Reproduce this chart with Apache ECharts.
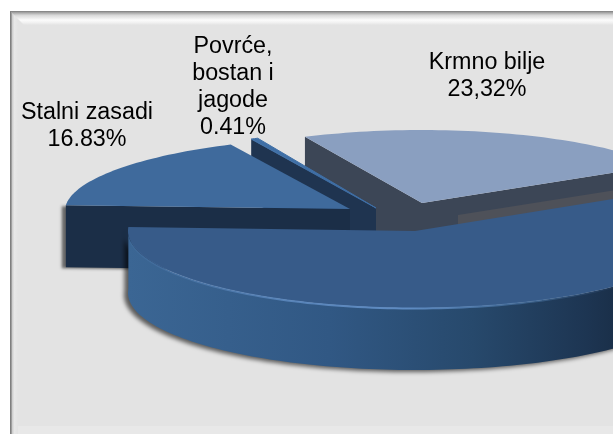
<!DOCTYPE html>
<html>
<head>
<meta charset="utf-8">
<style>html,body{margin:0;padding:0;background:#fff}#c{width:613px;height:434px}</style>
<script src="https://cdn.jsdelivr.net/npm/echarts@6/dist/echarts.min.js"></script>
</head>
<body>
<div id="c"></div>
<script>
// Slices in clockwise order, beginning with the slice at the back
const categories = ['Krmno bilje', 'Oranice', 'Stalni zasadi', 'Povrće, bostan i jagode'];
const shares = [23.32, 59.44, 16.83, 0.41];
const labelTexts = ['Krmno bilje\n23,32%', '', 'Stalni zasadi\n16.83%', 'Povrće,\nbostan i\njagode\n0.41%'];

// Layout and styling
const START_ANGLE = 245;
const DEPTH = 62;
const geometry = [
  {cx: 422, cy: 203, rx: 277, ry: 73, skew: 0},
  {cx: 415, cy: 231, rx: 287, ry: 77, skew: 0},
  {cx: 350, cy: 209, rx: 285, ry: 72, skew: 0.12},
  {cx: 376, cy: 208, rx: 280, ry: 77, skew: 0}
];
const labelPos = [[487, 76], null, [87, 126], [233, 87]];
const topColors = ['#8a9fc0', '#375b89', '#3f6a9c', '#3f6fa6'];
const drawOrder = [0, 3, 2, 1];
const FONT = '23.3px "Liberation Sans", Arial, sans-serif';

const total = shares.reduce((a, b) => a + b, 0);
const spans = [];
(function () {
  let a = START_ANGLE;
  shares.forEach(v => { const s = v / total * 360; spans.push([a, a + s]); a += s; });
})();

function pt(g, deg, dy) {
  const r = deg * Math.PI / 180;
  const yo = g.ry * Math.sin(r);
  return [g.cx + g.rx * Math.cos(r) - g.skew * yo, g.cy + yo + (dy || 0)];
}
function arc(g, a0, a1, dy) {
  const out = [];
  const n = Math.max(4, Math.ceil(Math.abs(a1 - a0) / 1.5));
  for (let i = 0; i <= n; i++) out.push(pt(g, a0 + (a1 - a0) * i / n, dy));
  return out;
}
function poly(points, style, extra) {
  return Object.assign({type: 'polygon', shape: {points}, style}, extra || {});
}
function hGrad(stops) {
  return {type: 'linear', x: 0, y: 0, x2: 1, y2: 0, colorStops: stops};
}

function renderSlice(params, api) {
  const i = api.value(0);
  const g = geometry[i];
  const [a0, a1] = spans[i];
  const apex = [g.cx, g.cy];
  const apexDown = [g.cx, g.cy + DEPTH];
  const startP = pt(g, a0), endP = pt(g, a1);
  const startD = pt(g, a0, DEPTH), endD = pt(g, a1, DEPTH);
  const children = [];

  if (i === 0) {
    // Back slice: two cut faces visible
    children.push(poly([startP, apex, endP, endD, apexDown, startD], {fill: '#3c4656'}));
    const sx = 36, sy = 12;
    children.push(poly([[g.cx + sx, g.cy + sy], [endP[0] + sx, endP[1] + sy], [endD[0], endD[1]], [g.cx + sx, g.cy + DEPTH]], {fill: '#4e5159'}));
    children.push(poly([apex].concat(arc(g, a0, a1)), {fill: topColors[i]}));
  } else if (i === 3) {
    // Thin slice
    children.push(poly([startP, apex, apexDown, startD], {fill: '#1f3450'}));
    children.push(poly([apex].concat(arc(g, a0, a1)), {fill: topColors[i], stroke: '#3f6fa6', lineWidth: 1}));
  } else if (i === 2) {
    children.push(poly([startP, apex, apexDown, startD], {
      fill: '#1b2e47', shadowBlur: 3, shadowColor: 'rgba(0,0,0,0.55)', shadowOffsetX: -4, shadowOffsetY: 1
    }));
    children.push(poly([apex].concat(arc(g, a0, a1)), {fill: topColors[i]}));
  } else {
    // Large front slice
    const sideGrad = hGrad([
      {offset: 0, color: '#3b6694'}, {offset: 0.35, color: '#315884'},
      {offset: 0.6, color: '#27496c'}, {offset: 0.8, color: '#1d3552'},
      {offset: 0.93, color: '#15263a'}, {offset: 1, color: '#1a2b41'}
    ]);
    const top = arc(g, a0, a1);
    const bottom = arc(g, a0, a1, DEPTH);
    children.push(poly(top.concat(bottom.slice().reverse()), {
      fill: sideGrad, shadowBlur: 4, shadowColor: 'rgba(0,0,0,0.6)', shadowOffsetX: -4, shadowOffsetY: 2
    }));
    children.push(poly([apex].concat(top), {fill: topColors[i]}));
    // Bevel highlight on the rim
    children.push({
      type: 'polyline',
      shape: {points: arc(g, 172, 40, 0.5)},
      style: {
        fill: null, lineWidth: 2,
        stroke: hGrad([
          {offset: 0, color: 'rgba(95,140,195,0.1)'}, {offset: 0.3, color: 'rgba(95,140,195,0.8)'},
          {offset: 0.55, color: 'rgba(95,140,195,1)'}, {offset: 0.8, color: 'rgba(80,125,175,0.5)'},
          {offset: 1, color: 'rgba(60,95,140,0)'}
        ])
      }
    });
  }
  return {type: 'group', children};
}

const panel = [
  {type: 'rect', shape: {x: 10, y: 11, width: 620, height: 440}, style: {fill: '#e3e3e3'}},
  {type: 'rect', shape: {x: 10, y: 11, width: 8, height: 440}, style: {fill: {type: 'linear', x: 0, y: 0, x2: 1, y2: 0, colorStops: [
    {offset: 0, color: '#777'}, {offset: 0.14, color: '#8a8a8a'}, {offset: 0.3, color: '#cfcfcf'},
    {offset: 0.55, color: '#e8e8e8'}, {offset: 1, color: '#e3e3e3'}]}}},
  {type: 'polygon', shape: {points: [[10, 11], [630, 11], [630, 25], [24, 25]]}, style: {fill: {type: 'linear', x: 0, y: 0, x2: 0, y2: 1, colorStops: [
    {offset: 0, color: '#7a7a7a'}, {offset: 0.08, color: '#9a9a9a'}, {offset: 0.3, color: '#d8d8d8'},
    {offset: 0.65, color: '#fbfbfb'}, {offset: 0.85, color: '#f0f0f0'}, {offset: 1, color: '#e3e3e3'}]}}},
  {type: 'rect', shape: {x: 18, y: 426, width: 600, height: 8}, style: {fill: '#e8e8e8'}}
];

const labels = labelTexts.map((t, i) => t ? {
  type: 'text', x: labelPos[i][0], y: labelPos[i][1], z: 5,
  style: {text: t, font: FONT, fill: '#000', align: 'center', verticalAlign: 'middle', lineHeight: 27}
} : null).filter(Boolean);

const chart = echarts.init(document.getElementById('c'), null, {renderer: 'canvas'});
chart.setOption({
  animation: false,
  backgroundColor: '#ffffff',
  graphic: {elements: panel.map(e => Object.assign({silent: true, z: -1}, e)).concat(labels)},
  series: [{
    type: 'custom',
    coordinateSystem: 'none',
    renderItem: renderSlice,
    clip: false,
    z: 2,
    encode: {},
    data: drawOrder.map(i => ({name: categories[i], value: [i, shares[i]]}))
  }]
});
</script>
</body>
</html>
